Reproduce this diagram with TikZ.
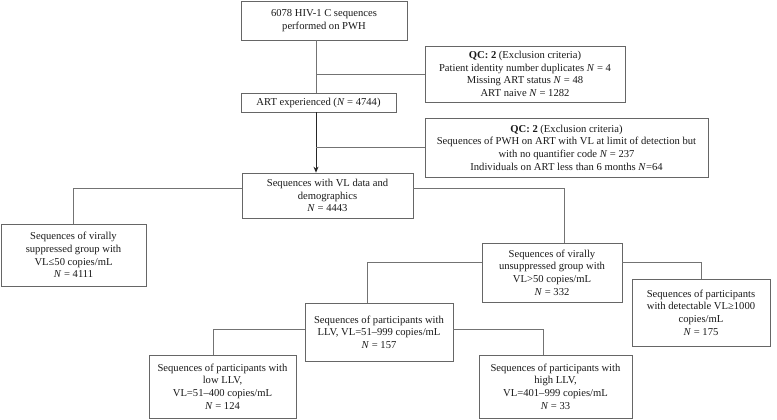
\documentclass[tikz,border=0pt]{standalone}
\usepackage{fontspec}
\setmainfont{Liberation Serif}
\usetikzlibrary{arrows.meta}
\begin{document}
\begin{tikzpicture}[x=1pt,y=-1pt,
  box/.style={draw=black!60, line width=0.7pt, align=center, inner sep=1pt,
    font=\fontsize{10.6}{12.6}\selectfont, text=black!90},
  conn/.style={draw=black!55, line width=0.7pt},
  arr/.style={draw=black!85, line width=0.8pt, -{Stealth[length=6pt,width=5pt]}}]
\useasboundingbox (0,0) rectangle (777,420);
\newcommand{\nn}{\textit{N}}
\node[box, minimum width=166pt, minimum height=39pt] (b1) at (324,20.5) {6078 HIV-1 C sequences\\performed on PWH};
\node[box, minimum width=200pt, minimum height=56pt] (qc1) at (525,74) {\textbf{QC: 2} (Exclusion criteria)\\Patient identity number duplicates \nn{} = 4\\Missing ART status \nn{} = 48\\ART naive \nn{} = 1282};
\node[box, minimum width=155pt, minimum height=19pt] (art) at (318.5,102.5) {ART experienced (\nn{} = 4744)};
\node[box, minimum width=283pt, minimum height=59pt] (qc2) at (566.5,147.5) {\textbf{QC: 2} (Exclusion criteria)\\Sequences of PWH on ART with VL at limit of detection but\\with no quantifier code \nn{} = 237\\Individuals on ART less than 6 months \nn{}=64};
\node[box, minimum width=171pt, minimum height=45pt] (vl) at (327.5,195.5) {Sequences with VL data and\\demographics\\\nn{} = 4443};
\node[box, minimum width=145pt, minimum height=62pt] (sup) at (73.5,255) {Sequences of virally\\suppressed group with\\VL≤50 copies/mL\\\nn{} = 4111};
\node[box, minimum width=140pt, minimum height=59pt] (uns) at (552,272.5) {Sequences of virally\\unsuppressed group with\\VL>50 copies/mL\\\nn{} = 332};
\node[box, minimum width=138pt, minimum height=67pt] (det) at (701,312.5) {Sequences of participants\\with detectable VL≥1000\\copies/mL\\\nn{} = 175};
\node[box, minimum width=148pt, minimum height=58pt] (llv) at (379,332) {Sequences of participants with\\LLV, VL=51–999 copies/mL\\\nn{} = 157};
\node[box, minimum width=147pt, minimum height=63pt] (low) at (222.5,386.5) {Sequences of participants with\\low LLV,\\VL=51–400 copies/mL\\\nn{} = 124};
\node[box, minimum width=153pt, minimum height=63pt] (high) at (555.5,386.5) {Sequences of participants with\\high LLV,\\VL=401–999 copies/mL\\\nn{} = 33};
% trunk
\coordinate (t1) at (316,0);
\draw[conn] (b1.south -| t1) -- (art.north -| t1);
\draw[conn] (t1 |- qc1.west) -- (qc1.west);
\draw[arr] (art.south -| t1) -- (vl.north -| t1);
\draw[conn] (t1 |- qc2.west) -- (qc2.west);
% VL branches
\coordinate (vly) at (0,188);
\coordinate (unsx) at (564,0);
\draw[conn] (vl.west |- vly) -| (sup.north);
\draw[conn] (vl.east |- vly) -| (unsx |- uns.north);
% unsuppressed branches
\coordinate (uy) at (0,262);
\coordinate (llvx) at (367,0);
\draw[conn] (uns.east |- uy) -| (det.north);
\draw[conn] (uns.west |- uy) -| (llvx |- llv.north);
% LLV branches
\coordinate (ly) at (0,329);
\coordinate (lowx) at (213,0);
\coordinate (highx) at (543,0);
\draw[conn] (llv.west |- ly) -| (lowx |- low.north);
\draw[conn] (llv.east |- ly) -| (highx |- high.north);
\end{tikzpicture}
\end{document}
